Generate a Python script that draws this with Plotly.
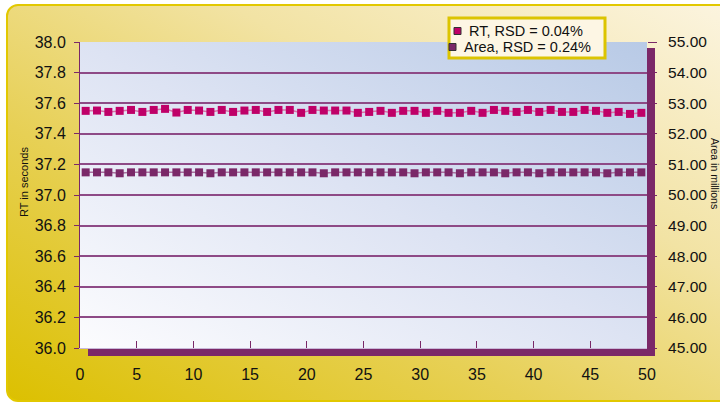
import base64
import plotly.graph_objects as go

# ---------------- data ----------------
injection = [i - 0.5 for i in range(1, 51)]  # injections 1..50 centred in their bins

rt_seconds = [37.550, 37.552, 37.543, 37.550, 37.556, 37.543, 37.556, 37.563, 37.539, 37.556,
              37.552, 37.543, 37.556, 37.543, 37.552, 37.556, 37.543, 37.556, 37.556, 37.537,
              37.556, 37.552, 37.552, 37.552, 37.537, 37.543, 37.550, 37.537, 37.550, 37.550,
              37.537, 37.550, 37.537, 37.537, 37.550, 37.537, 37.556, 37.550, 37.543, 37.556,
              37.543, 37.556, 37.543, 37.543, 37.556, 37.550, 37.537, 37.543, 37.530, 37.537]

area_millions = [50.74, 50.74, 50.74, 50.71, 50.74, 50.74, 50.74, 50.74, 50.74, 50.74,
                 50.74, 50.71, 50.74, 50.74, 50.74, 50.74, 50.74, 50.74, 50.74, 50.74,
                 50.74, 50.71, 50.74, 50.74, 50.74, 50.74, 50.74, 50.74, 50.74, 50.71,
                 50.74, 50.74, 50.74, 50.71, 50.74, 50.74, 50.74, 50.71, 50.74, 50.74,
                 50.71, 50.74, 50.74, 50.74, 50.74, 50.74, 50.71, 50.74, 50.74, 50.74]

rt_label = "RT, RSD = 0.04%"
area_label = "Area, RSD = 0.24%"
x_ticks = [0, 5, 10, 15, 20, 25, 30, 35, 40, 45, 50]

# ---------------- style ----------------
FONT = "Liberation Sans Narrow, Arial Narrow, Liberation Sans, sans-serif"
RT_COL = "#bf0068"
RT_LINE = "#d870a8"
AREA_COL = "#7a2868"
AREA_LINE = "#a8709e"
GRID = "#8e4a86"
BAND = "#7b2868"

W, H = 720, 402
ML, MR, MT, MB = 80, 73, 42, 54
PW, PH = W - ML - MR, H - MT - MB


def px(x):
    return (x - ML) / PW


def py(y):
    return (H - MB - y) / PH


def svg_uri(svg):
    return "data:image/svg+xml;base64," + base64.b64encode(svg.encode()).decode()


bg_svg = f"""<svg xmlns="http://www.w3.org/2000/svg" width="{W}" height="{H}" viewBox="0 0 {W} {H}" preserveAspectRatio="none">
<defs><linearGradient id="g" x1="0" y1="1" x2="1" y2="0">
<stop offset="0" stop-color="#dcc000"/><stop offset="0.35" stop-color="#e7d055"/>
<stop offset="0.65" stop-color="#f2e3a4"/><stop offset="1" stop-color="#fcf5e2"/>
</linearGradient></defs>
<rect x="0" y="0" width="{W}" height="{H}" fill="#ffffff"/>
<rect x="7" y="5" width="740" height="396" rx="11" ry="11" fill="url(#g)" stroke="#e2c800" stroke-width="2"/>
<rect x="88" y="349" width="567" height="7" fill="{BAND}"/>
<rect x="647" y="48" width="8" height="308" fill="{BAND}"/>
</svg>"""

plot_svg = """<svg xmlns="http://www.w3.org/2000/svg" width="567" height="306" viewBox="0 0 567 306" preserveAspectRatio="none">
<defs><linearGradient id="p" x1="0" y1="1" x2="1" y2="0">
<stop offset="0" stop-color="#fcfcfe"/><stop offset="0.5" stop-color="#dde3f3"/>
<stop offset="1" stop-color="#b8cae6"/>
</linearGradient></defs>
<rect x="0" y="0" width="567" height="306" fill="url(#p)"/>
</svg>"""

fig = go.Figure()

fig.add_trace(go.Scatter(
    x=injection, y=rt_seconds, mode="lines+markers", name=rt_label, showlegend=False,
    line=dict(color=RT_LINE, width=1.5),
    marker=dict(symbol="square", size=8, color=RT_COL), yaxis="y"))
fig.add_trace(go.Scatter(
    x=injection, y=area_millions, mode="lines+markers", name=area_label, showlegend=False,
    line=dict(color=AREA_LINE, width=1.5),
    marker=dict(symbol="square", size=8, color=AREA_COL), yaxis="y2"))

# ---- custom legend box (drawn as shapes + text) ----
LEG_L, LEG_R, LEG_T, LEG_B = 449, 605, 18, 58
shapes = [
    dict(type="rect", xref="paper", yref="paper", layer="above",
         x0=px(LEG_L), x1=px(LEG_R), y0=py(LEG_B), y1=py(LEG_T),
         fillcolor="#fdf6e4", line=dict(color="#dcc400", width=3)),
]
legend_rows = [(rt_label, RT_COL, 31, 467), (area_label, AREA_COL, 47, 462)]
annotations = []
for text, col, yc, xt in legend_rows:
    shapes.append(dict(type="rect", xref="paper", yref="paper", layer="above",
                       x0=px(xt - 13), x1=px(xt - 6), y0=py(yc + 3.5), y1=py(yc - 3.5),
                       fillcolor=col, line=dict(color="#333333", width=1)))
    annotations.append(dict(text=text, xref="paper", yref="paper", x=px(xt), y=py(yc),
                            xanchor="left", yanchor="middle", showarrow=False,
                            font=dict(family=FONT, size=14.5, color="#111111")))

annotations += [
    dict(text="RT in seconds", xref="paper", yref="paper",
         x=px(24), y=py(182), xanchor="center", yanchor="middle",
         showarrow=False, textangle=-90,
         font=dict(family=FONT, size=11, color="#111111")),
    dict(text="Area in millions", xref="paper", yref="paper",
         x=px(715), y=py(173), xanchor="center", yanchor="middle",
         showarrow=False, textangle=90,
         font=dict(family=FONT, size=10.5, color="#111111")),
]

fig.update_layout(
    width=W, height=H,
    margin=dict(l=ML, r=MR, t=MT, b=MB, pad=0),
    paper_bgcolor="#ffffff",
    plot_bgcolor="rgba(0,0,0,0)",
    font=dict(family=FONT, size=16, color="#111111"),
    showlegend=False,
    xaxis=dict(
        range=[0, 50], tickvals=x_ticks, ticktext=[str(t) for t in x_ticks],
        ticks="inside", ticklen=7, tickwidth=1.2, tickcolor=AREA_COL,
        showgrid=False, zeroline=False,
        showline=True, linecolor="#c8b8d8", linewidth=1,
        ticklabelstandoff=12,
        tickfont=dict(family=FONT, size=16, color="#111111"),
    ),
    yaxis=dict(
        range=[36, 38], dtick=0.2, tickformat=".1f",
        ticks="outside", ticklen=5, tickcolor=AREA_COL,
        showgrid=True, gridcolor=GRID, gridwidth=1.5,
        zeroline=False, showline=True, linecolor=AREA_COL, linewidth=1,
        ticklabelstandoff=5,
        tickfont=dict(family=FONT, size=16, color="#111111"),
    ),
    yaxis2=dict(
        range=[45, 55], dtick=1, tickformat=".2f", overlaying="y", side="right",
        ticks="outside", ticklen=9, tickcolor=AREA_COL,
        showgrid=False, zeroline=False, showline=False,
        ticklabelstandoff=8,
        tickfont=dict(family=FONT, size=15.5, color="#111111"),
    ),
    images=[
        dict(source=svg_uri(bg_svg), xref="paper", yref="paper",
             x=-ML / PW, y=1 + MT / PH, sizex=W / PW, sizey=H / PH,
             xanchor="left", yanchor="top", sizing="stretch", layer="below"),
        dict(source=svg_uri(plot_svg), xref="paper", yref="paper",
             x=0, y=1, sizex=1, sizey=1,
             xanchor="left", yanchor="top", sizing="stretch", layer="below"),
    ],
    shapes=shapes,
    annotations=annotations,
)

fig.write_html("out.html", config={"displayModeBar": False},
               post_script="document.body.style.margin='0';document.body.style.overflow='hidden';")
